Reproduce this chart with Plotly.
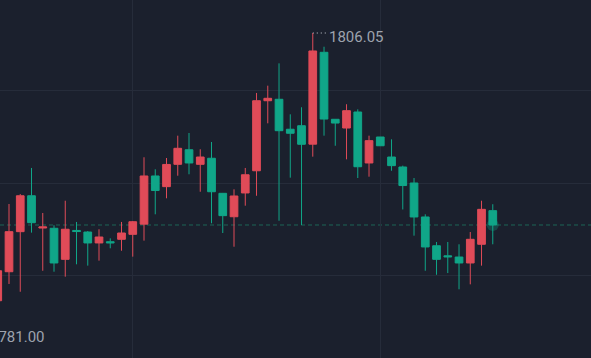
import plotly.graph_objects as go

# candle index (x) and OHLC values
x_idx = list(range(48))
opens = [1784.50, 1785.20, 1782.40, 1783.99, 1786.38, 1789.68, 1792.64, 1789.98, 1789.96, 1787.40,
         1789.78, 1789.65, 1788.75, 1788.85, 1789.05, 1789.46, 1790.30, 1794.27, 1793.39, 1795.23,
         1796.43, 1795.23, 1795.73, 1792.84, 1790.91, 1792.87, 1794.70, 1800.47, 1800.59, 1798.12,
         1798.41, 1796.89, 1804.46, 1798.94, 1798.22, 1799.54, 1795.34, 1797.48, 1795.83, 1795.01,
         1793.69, 1790.89, 1788.52, 1787.69, 1787.59, 1787.10, 1788.64, 1791.41]
highs = [1786.00, 1785.80, 1784.90, 1786.93, 1791.96, 1792.78, 1794.93, 1791.22, 1790.21, 1792.23,
         1790.48, 1789.73, 1789.88, 1789.13, 1790.48, 1790.56, 1795.81, 1794.82, 1795.75, 1797.59,
         1797.81, 1796.47, 1797.07, 1792.87, 1793.17, 1794.93, 1801.11, 1801.71, 1803.55, 1799.35,
         1799.93, 1806.05, 1804.92, 1798.96, 1800.18, 1799.76, 1797.59, 1797.48, 1797.29, 1795.12,
         1794.10, 1791.11, 1788.83, 1788.83, 1788.64, 1789.65, 1792.23, 1791.94]
lows = [1783.00, 1781.00, 1781.90, 1783.56, 1785.37, 1784.73, 1789.60, 1786.46, 1786.38, 1785.97,
        1786.99, 1786.88, 1787.29, 1788.31, 1788.11, 1787.62, 1788.94, 1791.11, 1792.43, 1794.29,
        1794.41, 1792.97, 1790.37, 1789.57, 1788.44, 1791.82, 1792.64, 1798.61, 1790.58, 1794.13,
        1790.23, 1795.86, 1797.59, 1796.76, 1795.64, 1794.10, 1794.21, 1796.76, 1794.70, 1791.51,
        1789.35, 1786.46, 1786.13, 1786.27, 1784.93, 1785.34, 1786.88, 1788.64]
closes = [1785.00, 1782.40, 1784.30, 1786.46, 1789.68, 1792.64, 1790.42, 1790.07, 1787.10, 1789.88,
          1789.69, 1788.75, 1789.24, 1788.76, 1789.57, 1790.50, 1794.27, 1793.07, 1795.22, 1796.55,
          1795.34, 1795.83, 1792.97, 1791.00, 1792.62, 1794.37, 1800.47, 1800.67, 1798.00, 1797.79,
          1796.88, 1804.57, 1798.96, 1798.63, 1799.65, 1795.03, 1797.18, 1796.76, 1795.12, 1793.48,
          1790.89, 1788.42, 1787.40, 1787.61, 1787.10, 1789.05, 1791.52, 1790.23]

price_grid = [1786.07, 1793.69, 1801.30]
time_grid = [15, 37]
x_range = [3.2, 55.73]
y_range = [1779.27, 1808.77]

RED = "#e04b58"
GREEN = "#10a688"
BG = "#1b202d"
GRID = "#262c3a"
TXT = "#9ea3ad"

fig = go.Figure()
fig.add_trace(go.Candlestick(
    x=x_idx, open=opens, high=highs, low=lows, close=closes,
    increasing=dict(line=dict(color=RED, width=1), fillcolor=RED),
    decreasing=dict(line=dict(color=GREEN, width=1), fillcolor=GREEN),
    whiskerwidth=0, showlegend=False, hoverinfo="skip",
))

last_x = x_idx[-1]
last_close = closes[-1]
# glow on last close
fig.add_trace(go.Scatter(x=[last_x], y=[last_close], mode="markers",
                         marker=dict(size=12, color="rgba(16,166,136,0.30)", line=dict(width=0)),
                         showlegend=False, hoverinfo="skip"))

# current price dashed line
fig.add_shape(type="line", xref="paper", x0=0, x1=1, y0=last_close, y1=last_close,
              line=dict(color="#1d6557", width=1, dash="4px,3px"), layer="below")

# high label
hi_val = max(highs)
hi_i = highs.index(hi_val)
px_per_unit = 591 / (x_range[1] - x_range[0])
fig.add_shape(type="line", x0=hi_i, x1=hi_i + 13 / px_per_unit, y0=hi_val, y1=hi_val,
              line=dict(color="#c8ccd4", width=1, dash="1px,3px"))
fig.add_annotation(x=hi_i, y=hi_val, text="1806.05", showarrow=False, xanchor="left",
                   yanchor="middle", xshift=14.5, yshift=-4,
                   font=dict(family="Roboto", size=15, color=TXT))

# low label
lo_val = min(lows)
lo_i = lows.index(lo_val)
lo_frac = (lo_i - x_range[0]) / (x_range[1] - x_range[0])
fig.add_annotation(xref="paper", x=lo_frac, y=lo_val, text="1781.00", showarrow=False,
                   xanchor="left", yanchor="middle", xshift=13,
                   font=dict(family="Roboto", size=15, color=TXT))

fig.update_layout(
    width=591, height=358, margin=dict(l=0, r=0, t=0, b=0),
    paper_bgcolor=BG, plot_bgcolor=BG,
    boxgap=0.315, boxgroupgap=0,
    xaxis=dict(range=x_range, showticklabels=False, tickvals=time_grid, gridcolor=GRID,
               gridwidth=1, zeroline=False, showline=False, rangeslider=dict(visible=False),
               fixedrange=True),
    yaxis=dict(range=y_range, showticklabels=False, tickvals=price_grid, gridcolor=GRID,
               gridwidth=1, zeroline=False, showline=False, fixedrange=True),
)

fig.write_html("out.html", config={"displayModeBar": False},
               post_script="document.body.style.margin='0';document.body.style.background='#1b202d';")
